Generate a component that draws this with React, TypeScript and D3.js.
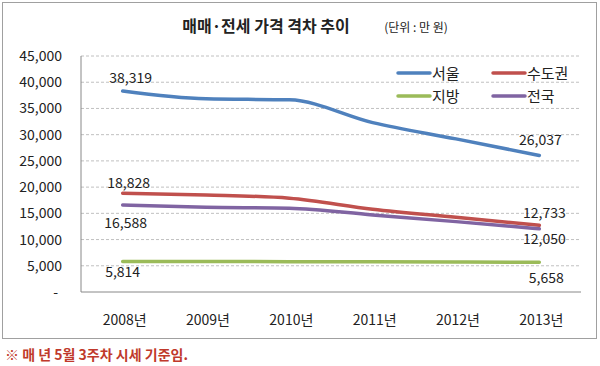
import React from 'react';
import * as d3 from 'd3';

const WIDTH = 600;
const HEIGHT = 366;
const PLOT = { left: 81, right: 581, top: 56, bottom: 292 };
const FONT = '"Noto Sans CJK KR", "Noto Sans", sans-serif';

const years = ['2008년', '2009년', '2010년', '2011년', '2012년', '2013년'];
const seoul = [38319, 36830, 36640, 32300, 29200, 26037];
const capital = [18828, 18500, 17880, 15780, 14250, 12733];
const regions = [5814, 5800, 5790, 5770, 5730, 5658];
const nation = [16588, 16160, 15970, 14690, 13420, 12050];
const yTicks = [0, 5000, 10000, 15000, 20000, 25000, 30000, 35000, 40000, 45000];

const series = [
  { name: '서울', values: seoul, color: '#4f81bd', first: [8, -8], last: [1, -10] },
  { name: '수도권', values: capital, color: '#c0504d', first: [6, -5], last: [5, -7] },
  { name: '지방', values: regions, color: '#9bbb59', first: [0, 15], last: [7, 21] },
  { name: '전국', values: nation, color: '#8064a2', first: [3, 23], last: [5, 15] },
];

// legend order: two columns
const legendPos = [
  [398, 73],
  [493, 73],
  [398, 96],
  [493, 96],
];

const fmt = d3.format(',');

const App = () => {
  const xBand = d3.scaleBand().domain(years).range([PLOT.left, PLOT.right]);
  const x = (d: string) => (xBand(d) as number) + xBand.bandwidth() / 2;
  const y = d3.scaleLinear().domain([0, 45000]).range([PLOT.bottom, PLOT.top]);

  const line = d3
    .line<number>()
    .x((d, i) => x(years[i]))
    .y(d => y(d))
    .curve(d3.curveMonotoneX);

  return (
    <svg width={WIDTH} height={HEIGHT} style={{ position: 'absolute', left: 0, top: 0, background: '#fff' }} fontFamily={FONT}>
      <rect x={2.5} y={2.5} width={594} height={336} fill="#fff" stroke="#a0a0a0" />

      <text x={266} y={32} textAnchor="middle" fontSize={16} fontWeight="bold" fill="#222">매매·전세 가격 격차 추이</text>
      <text x={416} y={32} textAnchor="middle" fontSize={12} fill="#222">(단위 : 만 원)</text>

      {yTicks.filter(t => t > 0).map(t => (
        <line key={t} x1={PLOT.left} x2={PLOT.right} y1={y(t)} y2={y(t)} stroke="#c0c0c0" strokeDasharray="3,2" />
      ))}
      {yTicks.map(t => (
        <text key={t} x={t === 0 ? 58 : 62} y={y(t) + 5} textAnchor="end" fontSize={14} fill="#222">
          {t === 0 ? '-' : fmt(t)}
        </text>
      ))}
      <line x1={PLOT.left} x2={PLOT.left} y1={PLOT.top} y2={PLOT.bottom} stroke="#888" />
      <line x1={PLOT.left} x2={PLOT.right} y1={PLOT.bottom} y2={PLOT.bottom} stroke="#888" />

      {years.map(yr => (
        <text key={yr} x={x(yr) + 2} y={325} textAnchor="middle" fontSize={14} fill="#222">{yr}</text>
      ))}

      {series.map(s => (
        <path key={s.name} d={line(s.values) || ''} fill="none" stroke={s.color} strokeWidth={3.5} strokeLinecap="round" strokeLinejoin="round" />
      ))}

      {series.map(s => {
        const n = s.values.length - 1;
        return (
          <g key={s.name} fontSize={14} fill="#222" textAnchor="middle">
            <text x={x(years[0]) + s.first[0]} y={y(s.values[0]) + s.first[1]}>{fmt(s.values[0])}</text>
            <text x={x(years[n]) + s.last[0]} y={y(s.values[n]) + s.last[1]}>{fmt(s.values[n])}</text>
          </g>
        );
      })}

      {series.map((s, i) => (
        <g key={s.name} transform={`translate(${legendPos[i][0]},${legendPos[i][1]})`}>
          <line x1={0} x2={32} y1={0} y2={0} stroke={s.color} strokeWidth={3.5} strokeLinecap="round" />
          <text x={34} y={6} fontSize={15} fill="#222">{s.name}</text>
        </g>
      ))}

      <text x={5} y={360} fontSize={14} fontWeight="bold" fill="#c0392b">※ 매 년 5월 3주차 시세 기준임.</text>
    </svg>
  );
};

export default App;
